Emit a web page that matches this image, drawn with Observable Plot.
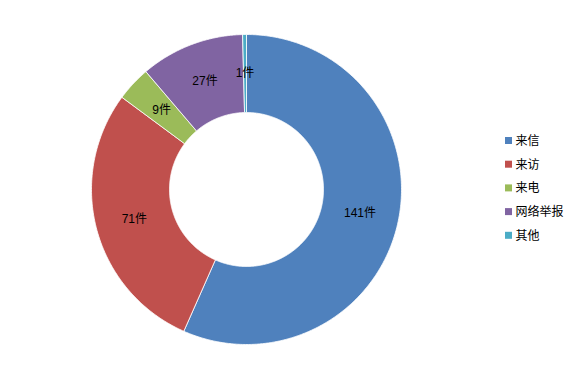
<!DOCTYPE html>
<html><head><meta charset="utf-8">
<script src="https://cdn.jsdelivr.net/npm/d3@7"></script>
<script src="https://cdn.jsdelivr.net/npm/@observablehq/plot@0.6"></script>
<style>body{margin:0;background:#fff}</style>
</head><body><div id="chart"></div>
<script>
const categories = ["来信", "来访", "来电", "网络举报", "其他"];
const values = [141, 71, 9, 27, 1];
const labels = ["141件", "71件", "9件", "27件", "1件"];
const colors = ["#4F81BD", "#C0504D", "#9BBB59", "#8064A2", "#4BACC6"];

const W = 580, H = 376;
const cx = 246, cy = 189, R = 155, r0 = 77;
const total = d3.sum(values);

// slice polygons
const slices = [];
const labelPts = [];
let acc = 0;
values.forEach((v, i) => {
  const a0 = acc / total * 2 * Math.PI;
  const a1 = (acc + v) / total * 2 * Math.PI;
  acc += v;
  const n = Math.max(2, Math.ceil((a1 - a0) / 0.01));
  const pts = [];
  for (let k = 0; k <= n; k++) {
    const a = a0 + (a1 - a0) * k / n;
    pts.push({cat: categories[i], x: cx + R * Math.sin(a), y: cy - R * Math.cos(a)});
  }
  for (let k = n; k >= 0; k--) {
    const a = a0 + (a1 - a0) * k / n;
    pts.push({cat: categories[i], x: cx + r0 * Math.sin(a), y: cy - r0 * Math.cos(a)});
  }
  pts.push(pts[0]);
  slices.push(...pts);
  const am = (a0 + a1) / 2, rm = (R + r0) / 2;
  labelPts.push({label: labels[i], x: cx + rm * Math.sin(am), y: cy - rm * Math.cos(am)});
});
// small slice label slightly shifted like the reference
labelPts[4].y += 0;

const legend = categories.map((c, i) => ({cat: c, x: 505, y: 140.5 + i * 23.7}));

const chart = Plot.plot({
  width: W, height: H,
  margin: 0,
  x: {domain: [0, W], range: [0, W], axis: null},
  y: {domain: [0, H], range: [0, H], axis: null},
  color: {domain: categories, range: colors},
  style: {fontFamily: "'Liberation Sans', 'Noto Sans CJK SC', sans-serif", background: "#fff"},
  marks: [
    Plot.line(slices, {x: "x", y: "y", z: "cat", fill: "cat", stroke: "white", strokeWidth: 0.8, curve: "linear"}),
    Plot.text(labelPts, {x: "x", y: "y", text: "label", fontSize: 12, fill: "#000"}),
    Plot.rect(legend, {x1: d => d.x, x2: d => d.x + 7, y1: d => d.y - 3.5, y2: d => d.y + 3.5, fill: "cat"}),
    Plot.text(legend, {x: d => d.x + 10, y: "y", text: "cat", textAnchor: "start", fontSize: 12, fill: "#000"})
  ]
});
document.getElementById("chart").appendChild(chart);
</script>
</body></html>
